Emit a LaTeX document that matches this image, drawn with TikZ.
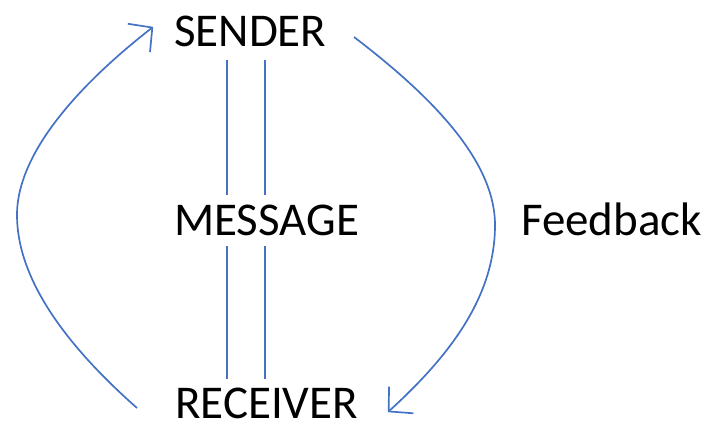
\documentclass[tikz,border=0pt]{standalone}
\usepackage{fontspec}
\setmainfont{Carlito}
\usetikzlibrary{arrows.meta}
\definecolor{officeblue}{HTML}{4472C4}
\begin{document}
\begin{tikzpicture}[x=1pt,y=-1pt,
  label text/.style={font=\fontsize{47}{47}\selectfont, inner sep=0pt, anchor=base west},
  link/.style={officeblue, line width=1.7pt},
  flow/.style={officeblue, line width=1.7pt, line join=round,
    -{Straight Barb[length=17pt,width=36pt,line join=round]}}]
  \useasboundingbox (0,0) rectangle (708,424);

  % the three parties and the feedback label
  \node[label text] (sender)   at (174,46)  {SENDER};
  \node[label text] (message)  at (174,235) {MESSAGE};
  \node[label text] (receiver) at (175,418) {RECEIVER};
  \node[label text] (feedback) at (521,235) {Feedback};

  % message channel: two parallel rails above and below MESSAGE
  \coordinate (a1) at (227,60);  \coordinate (a2) at (227,195);
  \coordinate (b1) at (265,60);  \coordinate (b2) at (265,195);
  \coordinate (c1) at (227,246); \coordinate (c2) at (227,379);
  \coordinate (d1) at (265,246); \coordinate (d2) at (265,379);
  \draw[link] (a1) -- (a2);
  \draw[link] (b1) -- (b2);
  \draw[link] (c1) -- (c2);
  \draw[link] (d1) -- (d2);

  % return loop from the receiver back to the sender
  \coordinate (ls) at (137,408);
  \coordinate (lm) at (17,215);
  \coordinate (le) at (153,27);
  \draw[flow] (ls) .. controls (60,340) and (17,275) .. (lm)
                   .. controls (17,150) and (85,80) .. (le);

  % feedback loop from the sender down to the receiver
  \coordinate (rs) at (354,37);
  \coordinate (rm) at (495,225);
  \coordinate (re) at (388,412);
  \draw[flow] (rs) .. controls (430,95) and (495,160) .. (rm)
                   .. controls (495,300) and (445,360) .. (re);
\end{tikzpicture}
\end{document}
